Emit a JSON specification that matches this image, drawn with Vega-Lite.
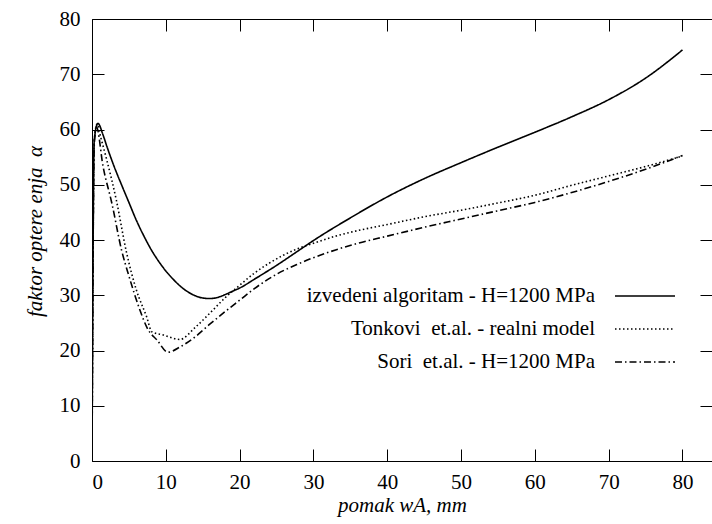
{
  "$schema": "https://vega.github.io/schema/vega-lite/v6.json",
  "width": 620,
  "height": 442,
  "autosize": {"type": "none"},
  "padding": {"left": 92, "top": 19, "right": 0, "bottom": 63},
  "background": "white",
  "config": {
    "view": {"stroke": null},
    "font": "'Liberation Serif', 'DejaVu Serif', serif",
    "axis": {"labelFont": "'Liberation Serif', 'DejaVu Serif', serif", "titleFont": "'Liberation Serif', 'DejaVu Serif', serif", "labelColor": "#000", "titleColor": "#000", "domainColor": "#000", "tickColor": "#000", "labelFontSize": 21, "titleFontSize": 21, "titleFontWeight": "normal", "grid": false},
    "legend": {"labelFont": "'Liberation Serif', 'DejaVu Serif', serif"}
  },
  "datasets": {
    "curves": [
      {"series": "izvedeni", "x": 0, "y": 0},
      {"series": "izvedeni", "x": 0.3, "y": 58},
      {"series": "izvedeni", "x": 0.8, "y": 61.1},
      {"series": "izvedeni", "x": 1.5, "y": 59},
      {"series": "izvedeni", "x": 2, "y": 57},
      {"series": "izvedeni", "x": 3, "y": 53.3},
      {"series": "izvedeni", "x": 4, "y": 50},
      {"series": "izvedeni", "x": 5, "y": 46.8},
      {"series": "izvedeni", "x": 6, "y": 43.6},
      {"series": "izvedeni", "x": 7, "y": 40.8},
      {"series": "izvedeni", "x": 8, "y": 38.3},
      {"series": "izvedeni", "x": 9, "y": 36.2},
      {"series": "izvedeni", "x": 10, "y": 34.4},
      {"series": "izvedeni", "x": 11, "y": 32.9},
      {"series": "izvedeni", "x": 12, "y": 31.6},
      {"series": "izvedeni", "x": 13, "y": 30.6},
      {"series": "izvedeni", "x": 14, "y": 29.9},
      {"series": "izvedeni", "x": 15, "y": 29.5},
      {"series": "izvedeni", "x": 16, "y": 29.4},
      {"series": "izvedeni", "x": 17, "y": 29.6},
      {"series": "izvedeni", "x": 18, "y": 30.1},
      {"series": "izvedeni", "x": 19, "y": 30.7},
      {"series": "izvedeni", "x": 20, "y": 31.3},
      {"series": "izvedeni", "x": 22, "y": 32.9},
      {"series": "izvedeni", "x": 25, "y": 35.4},
      {"series": "izvedeni", "x": 28, "y": 38.1},
      {"series": "izvedeni", "x": 30, "y": 39.9},
      {"series": "izvedeni", "x": 35, "y": 44},
      {"series": "izvedeni", "x": 40, "y": 47.8},
      {"series": "izvedeni", "x": 45, "y": 51.1},
      {"series": "izvedeni", "x": 50, "y": 54},
      {"series": "izvedeni", "x": 55, "y": 56.8},
      {"series": "izvedeni", "x": 60, "y": 59.5},
      {"series": "izvedeni", "x": 65, "y": 62.3},
      {"series": "izvedeni", "x": 70, "y": 65.4},
      {"series": "izvedeni", "x": 75, "y": 69.3},
      {"series": "izvedeni", "x": 80, "y": 74.4},
      {"series": "tonkovic", "x": 0, "y": 0},
      {"series": "tonkovic", "x": 0.3, "y": 58},
      {"series": "tonkovic", "x": 0.7, "y": 61},
      {"series": "tonkovic", "x": 1.2, "y": 58.5},
      {"series": "tonkovic", "x": 2, "y": 54.5},
      {"series": "tonkovic", "x": 3.3, "y": 47.2},
      {"series": "tonkovic", "x": 4.7, "y": 37.6},
      {"series": "tonkovic", "x": 6, "y": 31},
      {"series": "tonkovic", "x": 7.4, "y": 26.1},
      {"series": "tonkovic", "x": 8.1, "y": 23.4},
      {"series": "tonkovic", "x": 9.7, "y": 22.8},
      {"series": "tonkovic", "x": 11.9, "y": 22},
      {"series": "tonkovic", "x": 14, "y": 24.2},
      {"series": "tonkovic", "x": 16, "y": 26.8},
      {"series": "tonkovic", "x": 18, "y": 29.5},
      {"series": "tonkovic", "x": 20, "y": 31.8},
      {"series": "tonkovic", "x": 22, "y": 34},
      {"series": "tonkovic", "x": 24, "y": 35.8},
      {"series": "tonkovic", "x": 26, "y": 37.3},
      {"series": "tonkovic", "x": 28, "y": 38.5},
      {"series": "tonkovic", "x": 30, "y": 39.4},
      {"series": "tonkovic", "x": 33, "y": 40.7},
      {"series": "tonkovic", "x": 36, "y": 41.7},
      {"series": "tonkovic", "x": 40, "y": 42.8},
      {"series": "tonkovic", "x": 45, "y": 44.2},
      {"series": "tonkovic", "x": 50, "y": 45.4},
      {"series": "tonkovic", "x": 55, "y": 46.7},
      {"series": "tonkovic", "x": 60, "y": 48.1},
      {"series": "tonkovic", "x": 65, "y": 49.9},
      {"series": "tonkovic", "x": 70, "y": 51.6},
      {"series": "tonkovic", "x": 75, "y": 53.3},
      {"series": "tonkovic", "x": 80, "y": 55.2},
      {"series": "soric", "x": 0, "y": 0},
      {"series": "soric", "x": 0.3, "y": 57},
      {"series": "soric", "x": 0.6, "y": 60.5},
      {"series": "soric", "x": 1.5, "y": 53.3},
      {"series": "soric", "x": 2.7, "y": 46.6},
      {"series": "soric", "x": 4, "y": 38.2},
      {"series": "soric", "x": 5, "y": 33.5},
      {"series": "soric", "x": 6.5, "y": 27.3},
      {"series": "soric", "x": 7.5, "y": 24},
      {"series": "soric", "x": 8.8, "y": 21.9},
      {"series": "soric", "x": 10.3, "y": 19.7},
      {"series": "soric", "x": 12, "y": 20.7},
      {"series": "soric", "x": 14, "y": 22.5},
      {"series": "soric", "x": 16, "y": 24.8},
      {"series": "soric", "x": 18, "y": 27},
      {"series": "soric", "x": 20, "y": 29.1},
      {"series": "soric", "x": 22, "y": 31.2},
      {"series": "soric", "x": 25, "y": 33.8},
      {"series": "soric", "x": 28, "y": 35.7},
      {"series": "soric", "x": 30, "y": 36.8},
      {"series": "soric", "x": 33, "y": 38.2},
      {"series": "soric", "x": 36, "y": 39.4},
      {"series": "soric", "x": 40, "y": 40.7},
      {"series": "soric", "x": 45, "y": 42.3},
      {"series": "soric", "x": 50, "y": 43.8},
      {"series": "soric", "x": 55, "y": 45.3},
      {"series": "soric", "x": 60, "y": 46.8},
      {"series": "soric", "x": 65, "y": 48.6},
      {"series": "soric", "x": 70, "y": 50.6},
      {"series": "soric", "x": 75, "y": 52.8},
      {"series": "soric", "x": 80, "y": 55.3}
    ]
  },
  "data": {"name": "curves"},
  "layer": [
    {
      "mark": {"type": "line", "color": "#000", "strokeWidth": 1.6, "clip": true, "interpolate": "monotone"},
      "encoding": {
        "x": {"field": "x", "type": "quantitative", "scale": {"domain": [0, 84], "nice": false, "zero": false},
          "axis": {"orient": "bottom", "values": [0, 10, 20, 30, 40, 50, 60, 70, 80], "tickSize": -12, "labelPadding": 22, "labelAngle": 0, "domain": true, "title": "pomak wA, mm", "titleFontStyle": "italic", "titlePadding": 2}},
        "y": {"field": "y", "type": "quantitative", "scale": {"domain": [0, 80], "nice": false},
          "axis": {"orient": "left", "values": [0, 10, 20, 30, 40, 50, 60, 70, 80], "tickSize": -12, "labelPadding": 24, "domain": true, "title": "faktor optere enja\u00a0 α", "titleFontStyle": "italic", "titlePadding": 14, "titleY": 212}},
        "strokeDash": {"field": "series", "type": "nominal",
          "scale": {"domain": ["izvedeni", "tonkovic", "soric"], "range": [[1, 0], [1.5, 2.5], [7, 3, 1.5, 3]]},
          "legend": {"orient": "none", "legendX": 542, "legendY": 266, "title": null, "padding": 0,
            "labelExpr": "datum.value == 'izvedeni' ? 'izvedeni algoritam - H=1200 MPa' : datum.value == 'tonkovic' ? 'Tonkovi\u00a0 et.al. - realni model' : 'Sori\u00a0 et.al. - H=1200 MPa'",
            "labelAlign": "right", "labelOffset": -61, "labelLimit": 500, "labelFontSize": 21, "labelColor": "#000",
            "symbolType": "M-3,0L3,0", "symbolSize": 400, "symbolStrokeColor": "#000", "symbolStrokeWidth": 1.6, "symbolFillColor": "transparent", "rowPadding": 12}},
        "order": {"field": "x", "type": "quantitative"}
      }
    },
    {
      "mark": {"type": "point", "opacity": 0},
      "encoding": {
        "x": {"field": "x", "type": "quantitative", "scale": {"domain": [0, 84], "nice": false, "zero": false},
          "axis": {"orient": "top", "values": [0, 10, 20, 30, 40, 50, 60, 70, 80], "tickSize": -12, "labels": false, "domain": true, "title": null}},
        "y": {"field": "y", "type": "quantitative", "scale": {"domain": [0, 80], "nice": false},
          "axis": {"orient": "right", "values": [0, 10, 20, 30, 40, 50, 60, 70, 80], "tickSize": -12, "labels": false, "domain": false, "title": null}}
      }
    }
  ],
  "resolve": {"axis": {"x": "independent", "y": "independent"}}
}
